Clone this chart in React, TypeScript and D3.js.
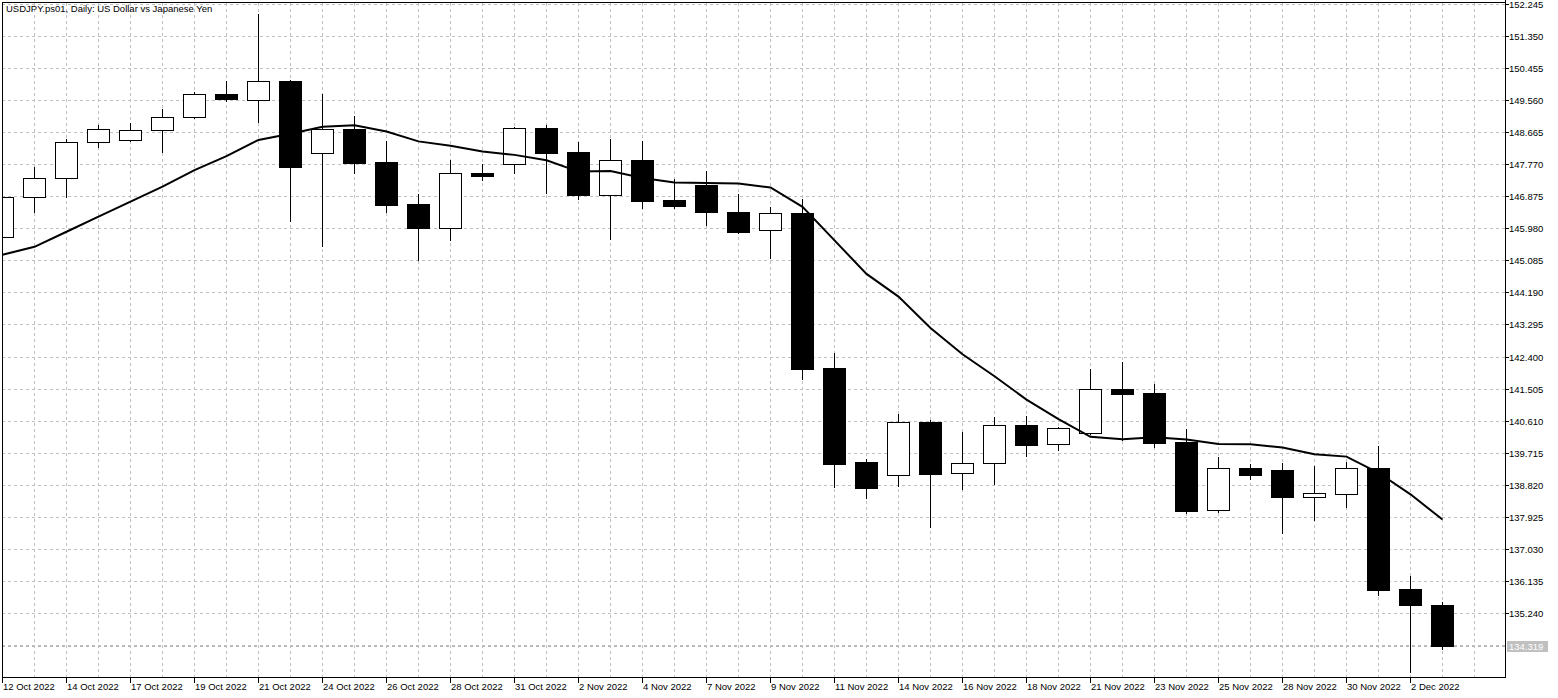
import React from "react";
import * as d3 from "d3";

const dates = ["12 Oct 2022","13 Oct 2022","14 Oct 2022","16 Oct 2022","17 Oct 2022","18 Oct 2022","19 Oct 2022","20 Oct 2022","21 Oct 2022","23 Oct 2022","24 Oct 2022","25 Oct 2022","26 Oct 2022","27 Oct 2022","28 Oct 2022","30 Oct 2022","31 Oct 2022","1 Nov 2022","2 Nov 2022","3 Nov 2022","4 Nov 2022","6 Nov 2022","7 Nov 2022","8 Nov 2022","9 Nov 2022","10 Nov 2022","11 Nov 2022","13 Nov 2022","14 Nov 2022","15 Nov 2022","16 Nov 2022","17 Nov 2022","18 Nov 2022","20 Nov 2022","21 Nov 2022","22 Nov 2022","23 Nov 2022","24 Nov 2022","25 Nov 2022","27 Nov 2022","28 Nov 2022","29 Nov 2022","30 Nov 2022","1 Dec 2022","2 Dec 2022","4 Dec 2022"];

const openV = [145.73,146.84,147.37,148.37,148.43,148.71,149.07,149.72,149.56,150.08,148.08,148.75,147.82,146.65,145.99,147.52,147.76,148.77,148.10,146.91,147.88,146.77,147.18,146.43,145.92,146.40,142.08,139.46,139.09,140.57,139.14,139.42,140.49,139.95,140.26,141.50,141.38,140.02,138.11,139.29,139.24,138.49,138.58,139.29,135.92,135.47];
const highV = [146.90,147.68,148.47,148.85,148.92,149.30,149.77,150.09,151.95,150.11,149.72,149.11,148.41,146.93,147.88,147.76,148.81,148.87,148.38,148.47,148.42,147.34,147.57,146.93,146.58,146.79,142.50,139.55,140.80,140.63,140.30,140.71,140.74,140.44,142.06,142.25,141.63,140.38,139.60,139.40,139.43,139.36,139.47,139.91,136.28,135.56];
const lowV = [145.65,146.43,146.84,148.25,148.42,148.11,149.05,149.53,148.95,146.19,145.49,147.53,146.43,145.09,145.65,147.32,147.53,146.97,146.80,145.67,146.54,146.54,146.06,145.85,145.16,141.77,138.75,138.46,138.80,137.66,138.71,138.85,139.63,139.79,140.24,140.08,139.87,138.05,138.07,138.99,137.49,137.84,138.20,135.75,133.61,134.24];
const closeV = [146.84,147.37,148.37,148.74,148.71,149.07,149.71,149.57,150.08,147.69,148.74,147.81,146.63,145.99,147.52,147.44,148.77,148.08,146.91,147.87,146.75,146.61,146.44,145.88,146.39,142.06,139.40,138.74,140.57,139.13,139.42,140.48,139.94,140.40,141.49,141.36,140.00,138.10,139.28,139.11,138.49,138.59,139.28,135.90,135.48,134.319];
const maV = [145.24,145.46,145.88,146.30,146.72,147.14,147.60,147.99,148.44,148.615,148.805,148.849,148.675,148.400,148.281,148.118,148.024,147.875,147.558,147.576,147.377,147.257,147.238,147.227,147.114,146.576,145.639,144.705,144.071,143.197,142.464,141.851,141.201,140.653,140.163,140.093,140.153,140.089,139.960,139.958,139.865,139.676,139.610,139.160,138.559,137.855];

const priceTicks = ["152.245","151.350","150.455","149.560","148.665","147.770","146.875","145.980","145.085","144.190","143.295","142.400","141.505","140.610","139.715","138.820","137.925","137.030","136.135","135.240","134.345"];
const lastPrice = "134.319";
const title = "USDJPY.ps01, Daily:  US Dollar vs Japanese Yen";

const W = 1558, H = 698;
const left = 2, right = 1505, top = 3, bottom = 677;
const FONT = "'Liberation Sans', Arial, sans-serif";

export default function App() {
  const x = d3.scalePoint<string>().domain(dates).range([left, left + 32 * (dates.length - 1)]);
  const step = x.step();
  const y = d3.scaleLinear().domain([133.465, 152.245]).range([bottom, 3.5]);
  const py = (v: number) => Math.round(y(v));

  const vGrid: number[] = [];
  for (let gx = left; gx < right; gx += step) vGrid.push(gx);

  const maLine = d3.line<number>().x((_, i) => x(dates[i]) as number + 0.5).y((d) => y(d));

  const lastY = py(+lastPrice);

  return (
    <svg width={W} height={H} style={{ position: "absolute", left: 0, top: 0, background: "#fff" }} fontFamily={FONT}>
      <defs>
        <clipPath id="plot"><rect x={left} y={top} width={right - left} height={bottom - top} /></clipPath>
      </defs>
      <rect x={0} y={0} width={W} height={H} fill="#fff" />
      <g shapeRendering="crispEdges" stroke="#c0c0c0" strokeDasharray="3,3" strokeWidth={1}>
        {vGrid.map((gx, i) => (
          <line key={"v" + i} x1={gx + 0.5} x2={gx + 0.5} y1={top} y2={bottom} />
        ))}
        {priceTicks.map((t) => (
          <line key={"h" + t} x1={left} x2={right} y1={py(+t) + 0.5} y2={py(+t) + 0.5} />
        ))}
        <line x1={left} x2={right} y1={lastY + 0.5} y2={lastY + 0.5} stroke="#b4b4b4" />
      </g>
      <g clipPath="url(#plot)" shapeRendering="crispEdges">
        {dates.map((d, i) => {
          const cx = x(d) as number;
          const o = openV[i], c = closeV[i];
          const up = c >= o;
          const yo = py(o), yc = py(c);
          return (
            <g key={d}>
              <line x1={cx + 0.5} x2={cx + 0.5} y1={py(highV[i])} y2={py(lowV[i]) + 1} stroke="#000" />
              {up ? (
                <rect x={cx - 11 + 0.5} y={yc + 0.5} width={22} height={Math.max(yo - yc, 1)} fill="#fff" stroke="#000" />
              ) : (
                <rect x={cx - 11} y={yo} width={23} height={Math.max(yc - yo, 1) + 1} fill="#000" />
              )}
            </g>
          );
        })}
        <path d={maLine(maV) || ""} fill="none" stroke="#000" strokeWidth={2} shapeRendering="auto" />
      </g>
      <g shapeRendering="crispEdges" stroke="#000">
        <line x1={left + 0.5} x2={left + 0.5} y1={top} y2={bottom + 1} />
        <line x1={left} x2={right + 1} y1={top - 0.5} y2={top - 0.5} />
        <line x1={right + 0.5} x2={right + 0.5} y1={0} y2={bottom + 1} />
        <line x1={left} x2={right + 1} y1={bottom + 0.5} y2={bottom + 0.5} />
        {dates.map((d, i) => i % 2 === 0 ? (
          <line key={"t" + d} x1={(x(d) as number) + 0.5} x2={(x(d) as number) + 0.5} y1={bottom} y2={bottom + 6} />
        ) : null)}
        {priceTicks.slice(0, -1).map((t) => (
          <line key={"pt" + t} x1={right} x2={right + 4} y1={py(+t) + 0.5} y2={py(+t) + 0.5} />
        ))}
      </g>
      <g fontSize={9.5} fill="#000">
        {dates.map((d, i) => i % 2 === 0 ? (
          <text key={"l" + d} x={(x(d) as number) + 1} y={689.5}>{d}</text>
        ) : null)}
        {priceTicks.slice(0, -1).map((t) => (
          <text key={"pl" + t} x={right + 4} y={py(+t) + 4}>{t}</text>
        ))}
      </g>
      <rect x={right + 2} y={lastY - 5} width={41} height={11} fill="#c0c0c0" />
      <text x={right + 4} y={lastY + 4} fontSize={9.5} fill="#fff">{lastPrice}</text>
      <text x={6} y={12} fontSize={9.5} fill="#000">{title}</text>
    </svg>
  );
}
